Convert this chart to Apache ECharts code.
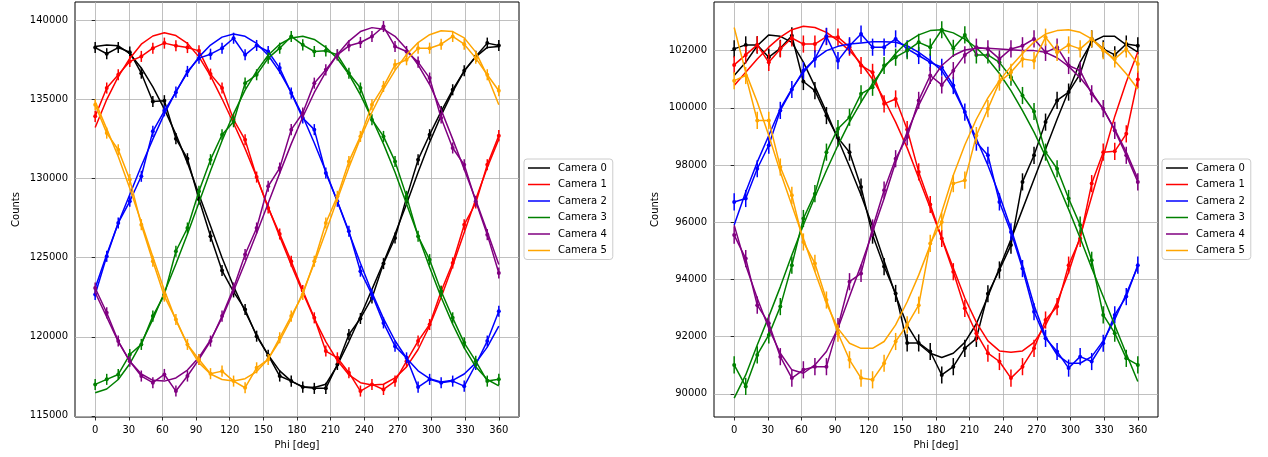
<!DOCTYPE html>
<html><head><meta charset="utf-8">
<script src="https://cdn.jsdelivr.net/npm/echarts@6/dist/echarts.min.js"></script>
<style>html,body{margin:0;padding:0;background:#fff}#c{width:1268px;height:457px}</style>
</head><body><div id="c"></div><script>
const phi = [0,10.29,20.57,30.86,41.14,51.43,61.71,72,82.29,92.57,102.86,113.14,123.43,133.71,144,154.29,164.57,174.86,185.14,195.43,205.71,216,226.29,236.57,246.86,257.14,267.43,277.71,288,298.29,308.57,318.86,329.14,339.43,349.71,360];
const cameraNames = ['Camera 0','Camera 1','Camera 2','Camera 3','Camera 4','Camera 5'];
const cameraColors = ['#000000','#ff0000','#0000ff','#008000','#800080','#ffa500'];
const xTicks = [0,30,60,90,120,150,180,210,240,270,300,330,360];
const leftYTicks = [115000,120000,125000,130000,135000,140000];
const rightYTicks = [90000,92000,94000,96000,98000,100000,102000];
const leftErr = 350;
const rightErr = 300;

const leftCam0 = [138290,137900,138290,138000,136670,134880,134930,132530,131260,128700,126360,124190,122840,121730,120040,118840,117520,117200,116820,116740,116740,118250,120150,121160,122460,124630,126250,128800,131200,132780,134250,135620,136820,137730,138570,138420];
const leftFit0 = [138350,138450,138400,137900,137000,135800,134400,132800,131000,129000,127000,125000,123200,121600,120100,118850,117850,117200,116850,116800,117000,118200,119700,121300,123000,124700,126500,128400,130400,132300,134000,135500,136800,137700,138300,138350];
const leftCam1 = [133940,135730,136570,137410,137730,138250,138570,138400,138290,138080,136610,135730,133730,132460,130100,128150,126500,124780,122930,121200,119100,118670,117730,116570,116990,116670,117200,118460,119730,120780,122880,124670,127090,128460,130880,132720];
const leftFit1 = [133240,135000,136450,137600,138500,139020,139220,139050,138550,137700,136500,135050,133500,131900,130100,128200,126350,124550,122800,121150,119700,118500,117600,117100,116950,117000,117400,118100,119200,120700,122500,124500,126600,128700,130700,132500];
const leftCam2 = [122670,125090,127200,128570,130150,132990,134290,135470,136780,137620,137870,138250,138880,137830,138420,138040,136990,135410,133830,133100,130360,128570,126670,124150,122670,120880,119410,118670,116820,117310,117100,117200,116880,118250,119730,121620];
const leftFit2 = [123090,125200,127200,129000,130800,132500,134100,135500,136700,137700,138450,138950,139150,139000,138550,137800,136750,135450,133950,132250,130450,128550,126600,124650,122800,121150,119750,118650,117850,117350,117150,117250,117650,118350,119350,120670];
const leftCam3 = [116990,117310,117620,118880,119520,121310,122670,125410,126880,129200,131200,132780,133600,136040,136570,137620,138250,138990,138460,138040,138080,137830,136670,135730,133730,132670,131090,128880,126360,124880,122880,121200,119620,118460,117200,117310];
const leftFit3 = [116460,116700,117300,118300,119600,121100,122800,124600,126500,128500,130500,132400,134100,135600,136800,137800,138500,138900,139000,138800,138300,137600,136600,135300,133800,132200,130400,128400,126400,124400,122500,120800,119300,118100,117300,116900];
const leftCam4 = [123090,121520,119730,118460,117520,117100,117620,116570,117520,118570,119730,121310,123090,125200,126880,129520,130670,133100,134150,136040,136880,137830,138400,138610,138990,139620,138360,138040,137370,136360,133830,131940,130880,128570,126460,124040];
const leftFit4 = [122800,121250,119700,118450,117650,117250,117200,117400,117900,118700,119800,121200,122900,124700,126550,128450,130350,132200,133900,135450,136750,137850,138700,139300,139550,139450,139000,138200,137200,135950,134350,132500,130600,128650,126650,124570];
const leftCam5 = [134670,132880,131830,129940,127090,124780,122570,121100,119520,118570,117670,117830,117200,116780,118040,118570,119940,121310,122670,124780,127200,128880,131090,132670,134670,135830,137200,137520,138250,138250,138500,138990,138500,137620,136570,135560];
const leftFit5 = [134880,133150,131400,129400,127250,125050,122950,121050,119500,118350,117650,117300,117200,117350,117800,118600,119750,121150,122800,124650,126650,128700,130700,132550,134200,135650,136850,137850,138600,139100,139350,139300,138900,138000,136500,134670];

const rightCam0 = [102060,102200,102200,101770,102080,102520,100920,100600,99730,98950,98450,97230,95550,94450,93510,91780,91780,91480,90660,90950,91590,91940,93500,94330,95200,97410,98340,99500,100260,100550,101190,102410,102060,101850,102230,102170];
const rightFit0 = [101130,101590,102170,102550,102500,102290,101600,100750,99850,98900,97950,96950,95850,94650,93450,92400,91750,91420,91270,91420,91800,92450,93400,94400,95400,96450,97500,98550,99600,100600,101600,102300,102500,102500,102200,101950];
const rightCam1 = [101500,101850,102200,101590,102060,102440,102230,102230,102490,102470,102120,101480,101240,100140,100310,99240,97760,96620,95430,94270,92990,92120,91420,91130,90550,90950,91590,92580,93050,94500,95430,97350,98450,98480,99090,100990];
const rightFit1 = [100780,101240,101710,102120,102470,102730,102850,102810,102640,102350,102000,101550,101000,100300,99500,98600,97550,96500,95450,94400,93350,92500,91850,91500,91450,91500,91800,92400,93200,94250,95500,96900,98300,99700,100900,101950];
const rightCam2 = [96710,96830,97870,98690,99910,100640,101300,101710,102500,101650,102170,102580,102120,102120,102410,102060,101830,101590,101420,100780,99850,98800,98340,96710,95660,94380,92870,91940,91480,90900,91300,91130,91770,92760,93400,94500];
const rightFit2 = [95900,97060,98100,99030,99970,100660,101240,101710,102000,102150,102230,102270,102310,102310,102290,102170,101940,101650,101300,100660,99850,98920,97990,96940,95780,94500,93100,92000,91360,91070,91070,91300,91850,92600,93500,94450];
const rightCam3 = [91010,90260,91360,92060,93050,94500,96130,97000,98450,99270,99670,100490,100720,101480,101770,102000,102290,102120,102730,102080,102550,101850,101850,101590,101070,100430,99870,98450,97870,96830,95900,94670,92760,92120,91240,91010];
const rightFit3 = [89850,90660,91710,92700,93740,94850,95900,96880,97810,98690,99500,100200,100850,101400,101900,102300,102550,102700,102730,102620,102400,102100,101700,101200,100600,99900,99150,98300,97400,96450,95450,94400,93400,92400,91400,90430];
const rightCam4 = [95550,94730,93100,92470,91300,90550,90840,90950,90950,92350,93920,94210,95800,97120,98220,98980,100260,101130,100800,101300,101850,102120,102060,101710,102060,102170,102410,101940,102120,101480,101300,100490,99970,99210,98340,97410];
const rightFit4 = [95900,94500,93340,92290,91420,90840,90720,91010,91480,92290,93400,94500,95660,96830,98100,99150,100080,100900,101480,101830,102020,102080,102080,102060,102030,102000,102000,101940,101750,101450,101050,100550,99950,99250,98450,97520];
const rightCam5 = [100950,101130,99560,99560,97930,96940,95310,94560,93280,92120,91190,90550,90490,91070,91830,92410,93100,95260,96010,97350,97470,99030,99970,100900,101240,101710,101650,102470,101940,102200,102060,102410,102000,101710,102060,101530];
const rightFit5 = [102810,101240,100200,99030,97760,96590,95430,94270,93160,92290,91770,91590,91590,91830,92410,93220,94150,95200,96360,97640,98700,99600,100350,100950,101450,101900,102300,102580,102700,102730,102640,102410,102060,101650,101190,100660];

const leftData = [leftCam0,leftCam1,leftCam2,leftCam3,leftCam4,leftCam5];
const leftFits = [leftFit0,leftFit1,leftFit2,leftFit3,leftFit4,leftFit5];
const rightData = [rightCam0,rightCam1,rightCam2,rightCam3,rightCam4,rightCam5];
const rightFits = [rightFit0,rightFit1,rightFit2,rightFit3,rightFit4,rightFit5];

const FONT = 'DejaVu Sans';
const series = [];
function addPanel(g, dataArr, fitArr, err) {
  for (let i = 0; i < 6; i++) {
    const col = cameraColors[i];
    series.push({
      name: cameraNames[i], type: 'line', xAxisIndex: g, yAxisIndex: g,
      data: phi.map((p, k) => [p, dataArr[i][k]]),
      symbol: 'circle', symbolSize: 4, showSymbol: true,
      lineStyle: { color: col, width: 1.5 }, itemStyle: { color: col },
      animation: false, silent: true, z: 2 + i
    });
    series.push({
      name: cameraNames[i], type: 'custom', xAxisIndex: g, yAxisIndex: g,
      data: phi.map((p, k) => [p, dataArr[i][k], err]),
      encode: { x: 0, y: 1 },
      itemStyle: { color: col },
      renderItem: function (params, api) {
        const x = api.value(0), y = api.value(1), e = api.value(2);
        const a = api.coord([x, y - e]), b = api.coord([x, y + e]);
        return { type: 'line', shape: { x1: a[0], y1: a[1], x2: b[0], y2: b[1] },
                 style: { stroke: col, lineWidth: 1.5 } };
      },
      animation: false, silent: true, z: 2 + i
    });
    series.push({
      name: cameraNames[i], type: 'line', xAxisIndex: g, yAxisIndex: g,
      data: phi.map((p, k) => [p, fitArr[i][k]]),
      symbol: 'none', lineStyle: { color: col, width: 1.5 }, itemStyle: { color: col },
      animation: false, silent: true, z: 2 + i
    });
  }
}
addPanel(0, leftData, leftFits, leftErr);
addPanel(1, rightData, rightFits, rightErr);

function xAxis(g) {
  return {
    type: 'value', gridIndex: g, min: -18, max: 378,
    name: 'Phi [deg]', nameLocation: 'middle', nameGap: 23,
    nameTextStyle: { fontFamily: FONT, fontSize: 10, color: '#000' },
    axisLine: { show: false },
    axisTick: { show: true, customValues: xTicks, length: 3.5, lineStyle: { color: '#000', width: 0.8 } },
    axisLabel: { customValues: xTicks, fontFamily: FONT, fontSize: 10, color: '#000', margin: 8 },
    splitLine: { show: true, lineStyle: { color: '#b0b0b0', width: 0.8 } }
  };
}
function yAxis(g, min, max, ticks) {
  return {
    type: 'value', gridIndex: g, min: min, max: max,
    name: 'Counts', nameLocation: 'middle', nameGap: 54,
    nameTextStyle: { fontFamily: FONT, fontSize: 10, color: '#000' },
    axisLine: { show: false },
    axisTick: { show: true, customValues: ticks, length: 3.5, lineStyle: { color: '#000', width: 0.8 } },
    axisLabel: { customValues: ticks, fontFamily: FONT, fontSize: 10, color: '#000', margin: 7,
                 formatter: v => String(v) },
    splitLine: { show: true, lineStyle: { color: '#b0b0b0', width: 0.8 } }
  };
}
function legend(left) {
  return {
    data: cameraNames, orient: 'vertical', left: left, top: 159,
    icon: 'rect', itemWidth: 22, itemHeight: 1.5, itemGap: 4.5,
    padding: [3, 6, 3, 4], borderColor: '#cccccc', borderWidth: 1, borderRadius: 3,
    backgroundColor: '#ffffff', selectedMode: false,
    textStyle: { fontFamily: FONT, fontSize: 10, color: '#000', lineHeight: 12, padding: [0, 0, 0, 3] }
  };
}
const chart = echarts.init(document.getElementById('c'), null, { renderer: 'canvas' });
chart.setOption({
  animation: false,
  backgroundColor: '#ffffff',
  grid: [
    { left: 75, top: 2, width: 444, height: 415, show: true, borderColor: '#000', borderWidth: 1, backgroundColor: 'transparent' },
    { left: 714, top: 2, width: 444, height: 415, show: true, borderColor: '#000', borderWidth: 1, backgroundColor: 'transparent' }
  ],
  xAxis: [xAxis(0), xAxis(1)],
  yAxis: [yAxis(0, 114930, 141170, leftYTicks), yAxis(1, 89190, 103700, rightYTicks)],
  legend: [legend(524), legend(1162)],
  series: series
});
</script></body></html>
